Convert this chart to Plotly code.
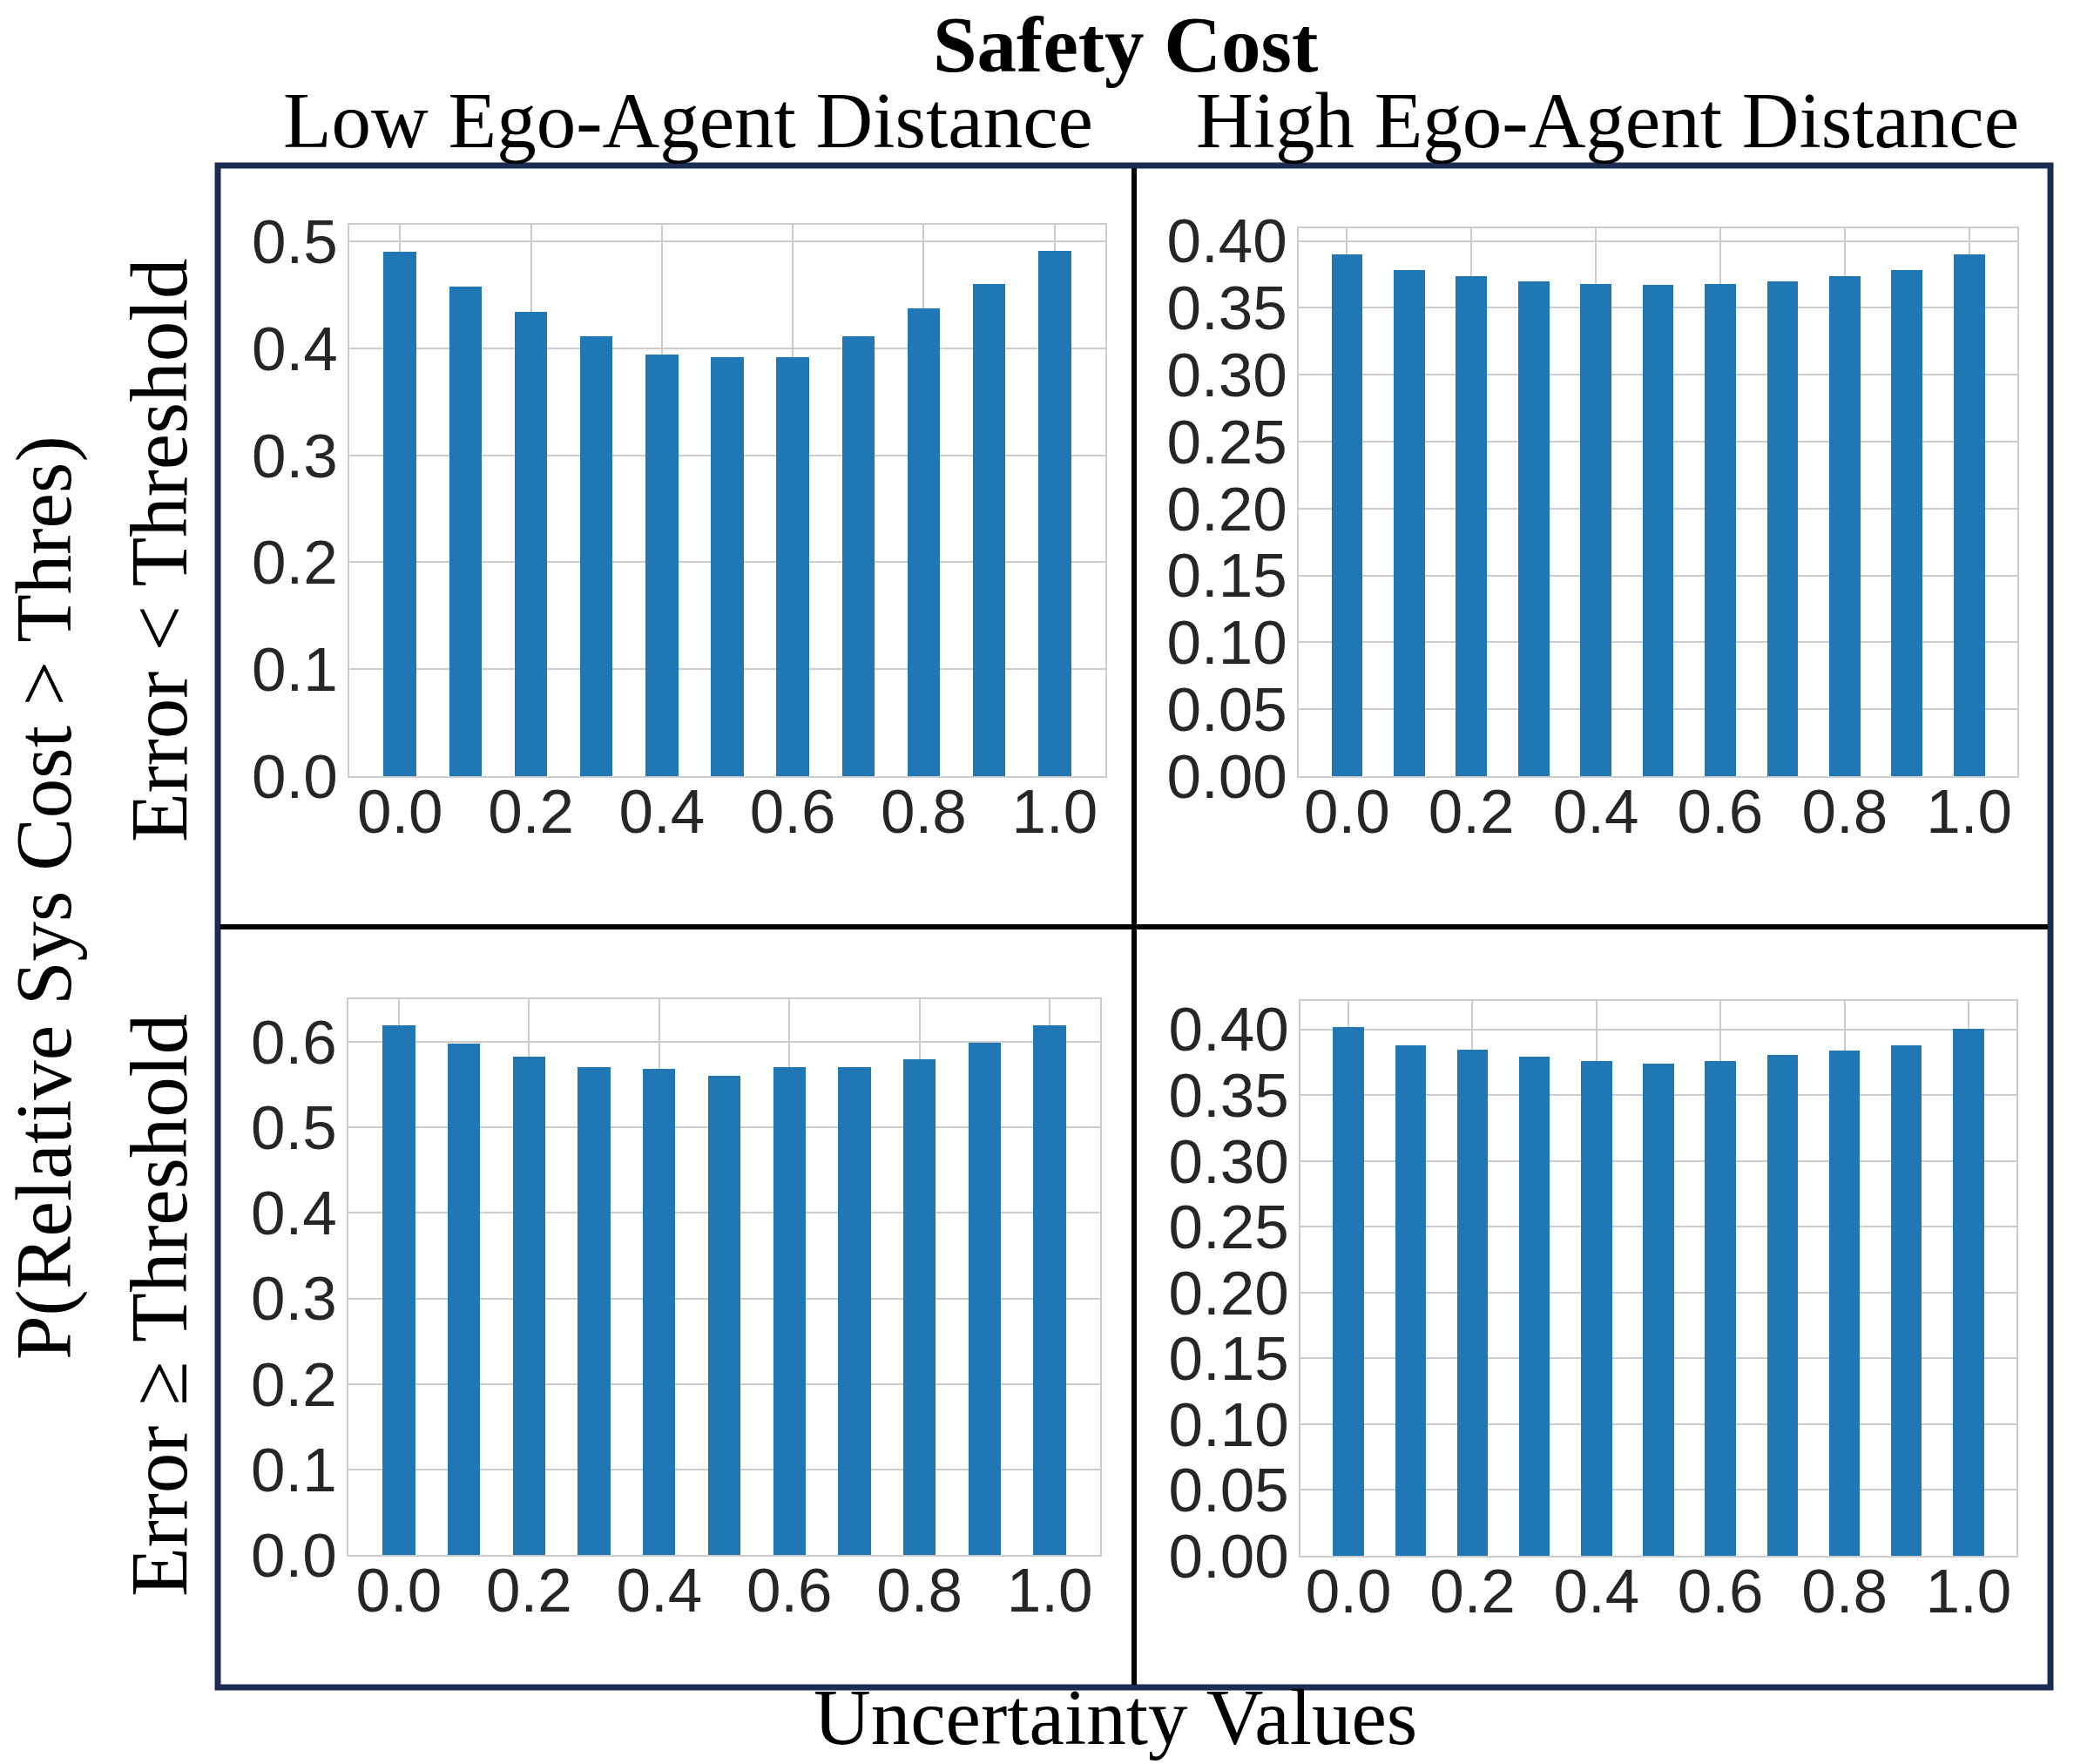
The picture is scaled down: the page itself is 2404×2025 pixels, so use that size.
import plotly.graph_objects as go

W, H = 2404, 2025

# ---- data ----
uncertainty = [0.0, 0.1, 0.2, 0.3, 0.4, 0.5, 0.6, 0.7, 0.8, 0.9, 1.0]
low_dist_err_lt = [0.490, 0.458, 0.434, 0.4115, 0.394, 0.392, 0.392, 0.4115, 0.437, 0.460, 0.491]
high_dist_err_lt = [0.390, 0.378, 0.374, 0.370, 0.368, 0.3675, 0.368, 0.370, 0.374, 0.378, 0.390]
low_dist_err_ge = [0.619, 0.5975, 0.583, 0.571, 0.5685, 0.5605, 0.571, 0.571, 0.580, 0.5995, 0.619]
high_dist_err_ge = [0.4015, 0.388, 0.3843, 0.3795, 0.376, 0.3737, 0.3757, 0.3805, 0.3837, 0.388, 0.4005]

col_titles = ["Low Ego-Agent Distance", "High Ego-Agent Distance"]
row_titles = ["Error < Threshold", "Error \u2265 Threshold"]
main_title = "Safety Cost"
x_title = "Uncertainty Values"
y_title = "P(Relative Sys Cost > Thres)"

BAR = "#1f77b4"
GRID = "#cccccc"
TICK = "#262626"
FRAME = "#1c2c52"
SERIF = "Liberation Serif, Times New Roman, serif"
SANS = "Liberation Sans, Arial, sans-serif"


def fx(p):
    return p / W


def fy(p):
    return 1 - p / H


# panel pixel boxes (left, right, top, bottom)
panels = [
    (low_dist_err_lt, (401, 1269, 258, 891), 0.1, ".1f"),
    (high_dist_err_lt, (1491, 2316, 262, 891), 0.05, ".2f"),
    (low_dist_err_ge, (400, 1263, 1147, 1785), 0.1, ".1f"),
    (high_dist_err_ge, (1493, 2315, 1149, 1786), 0.05, ".2f"),
]

fig = go.Figure()
layout = {}
for i, (vals, (l, r, t, b), dt, fmt) in enumerate(panels, start=1):
    xa = "x" if i == 1 else f"x{i}"
    ya = "y" if i == 1 else f"y{i}"
    fig.add_trace(go.Bar(x=uncertainty, y=vals, width=0.05, marker=dict(color=BAR, line=dict(width=0)),
                         xaxis=xa, yaxis=ya, showlegend=False, hoverinfo="x+y"))
    xkey = "xaxis" if i == 1 else f"xaxis{i}"
    ykey = "yaxis" if i == 1 else f"yaxis{i}"
    layout[xkey] = dict(domain=[fx(l), fx(r)], anchor=ya, range=[-0.0775, 1.0775],
                        tickmode="linear", tick0=0, dtick=0.2, tickformat=".1f",
                        showgrid=True, gridcolor=GRID, gridwidth=2, zeroline=False,
                        showline=True, linecolor=GRID, linewidth=2, mirror=True,
                        ticks="", ticklabelstandoff=-22, automargin=False,
                        tickfont=dict(family=SANS, size=71, color=TICK))
    layout[ykey] = dict(domain=[fy(b), fy(t)], anchor=xa, range=[0, max(vals) * 1.05],
                        tickmode="linear", tick0=0, dtick=dt, tickformat=fmt,
                        showgrid=True, gridcolor=GRID, gridwidth=2, zeroline=False,
                        showline=True, linecolor=GRID, linewidth=2, mirror=True,
                        ticks="", ticklabelstandoff=-3, automargin=False,
                        tickfont=dict(family=SANS, size=71, color=TICK))

shapes = [
    dict(type="rect", xref="paper", yref="paper", x0=fx(250), x1=fx(2354), y0=fy(1937), y1=fy(190),
         line=dict(color=FRAME, width=7), fillcolor="rgba(0,0,0,0)", layer="above"),
    dict(type="line", xref="paper", yref="paper", x0=fx(1302), x1=fx(1302), y0=fy(1934), y1=fy(193),
         line=dict(color="black", width=6)),
    dict(type="line", xref="paper", yref="paper", x0=fx(253), x1=fx(2351), y0=fy(1064), y1=fy(1064),
         line=dict(color="black", width=6)),
]

annotations = [
    dict(text=f"<b>{main_title}</b>", x=fx(1292), y=fy(51), xref="paper", yref="paper",
         xanchor="center", yanchor="middle", showarrow=False, font=dict(family=SERIF, size=91, color="black")),
    dict(text=col_titles[0], x=fx(790), y=fy(138), xref="paper", yref="paper",
         xanchor="center", yanchor="middle", showarrow=False, font=dict(family=SERIF, size=91, color="black")),
    dict(text=col_titles[1], x=fx(1845), y=fy(138), xref="paper", yref="paper",
         xanchor="center", yanchor="middle", showarrow=False, font=dict(family=SERIF, size=91, color="black")),
    dict(text=x_title, x=fx(1280), y=fy(1971), xref="paper", yref="paper",
         xanchor="center", yanchor="middle", showarrow=False, font=dict(family=SERIF, size=91, color="black")),
    dict(text=y_title, x=fx(50), y=fy(1031), xref="paper", yref="paper", textangle=-90,
         xanchor="center", yanchor="middle", showarrow=False, font=dict(family=SERIF, size=91, color="black")),
    dict(text=row_titles[0], x=fx(182), y=fy(632), xref="paper", yref="paper", textangle=-90,
         xanchor="center", yanchor="middle", showarrow=False, font=dict(family=SERIF, size=93, color="black")),
    dict(text=row_titles[1], x=fx(182), y=fy(1499), xref="paper", yref="paper", textangle=-90,
         xanchor="center", yanchor="middle", showarrow=False, font=dict(family=SERIF, size=93, color="black")),
]

fig.update_layout(width=W, height=H, margin=dict(l=0, r=0, t=0, b=0, autoexpand=False),
                  paper_bgcolor="white", plot_bgcolor="white", bargap=0,
                  shapes=shapes, annotations=annotations, **layout)

fig.write_html("out.html", config={"displayModeBar": False},
               post_script="document.body.style.margin='0px';")
